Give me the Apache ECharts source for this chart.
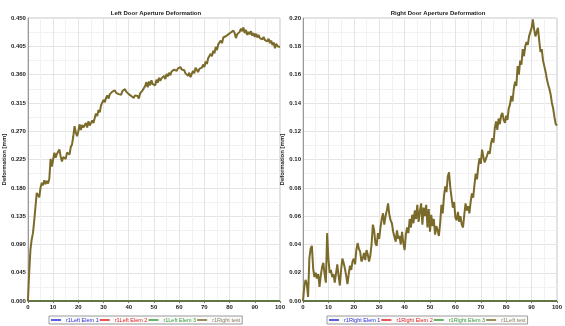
<!DOCTYPE html>
<html>
<head>
<meta charset="utf-8">
<script src="https://cdn.jsdelivr.net/npm/echarts@6/dist/echarts.min.js"></script>
<style>
  html, body { margin: 0; padding: 0; background: #ffffff; }
  #chart { width: 565px; height: 326px; }
</style>
</head>
<body>
<div id="chart"></div>
<script>
// Sampling interval of the measured channels [ms]
const SAMPLE_STEP = 0.5;

// Left door aperture deformation, test channel [mm], one value per 0.5 ms
const leftTest = [
  0.000, 0.045, 0.082, 0.098, 0.108, 0.128, 0.150, 0.172, 0.175, 0.165,
  0.180, 0.188, 0.184, 0.192, 0.186, 0.191, 0.187, 0.195, 0.226, 0.214,
  0.225, 0.236, 0.228, 0.234, 0.232, 0.241, 0.230, 0.222, 0.229, 0.232,
  0.226, 0.236, 0.238, 0.233, 0.245, 0.249, 0.262, 0.278, 0.268, 0.262,
  0.270, 0.281, 0.272, 0.280, 0.276, 0.274, 0.283, 0.276, 0.286, 0.279,
  0.281, 0.287, 0.283, 0.291, 0.298, 0.294, 0.304, 0.300, 0.311, 0.309,
  0.320, 0.316, 0.323, 0.327, 0.322, 0.329, 0.326, 0.333, 0.330, 0.335,
  0.331, 0.334, 0.329, 0.332, 0.328, 0.334, 0.331, 0.337, 0.333, 0.336,
  0.329, 0.331, 0.326, 0.329, 0.323, 0.327, 0.324, 0.326, 0.322, 0.330,
  0.328, 0.335, 0.333, 0.342, 0.348, 0.340, 0.349, 0.343, 0.351, 0.345,
  0.348, 0.343, 0.352, 0.347, 0.355, 0.350, 0.354, 0.351, 0.358, 0.353,
  0.361, 0.357, 0.363, 0.359, 0.365, 0.362, 0.368, 0.371, 0.366, 0.370,
  0.367, 0.372, 0.368, 0.365, 0.367, 0.362, 0.364, 0.358, 0.363, 0.356,
  0.359, 0.366, 0.362, 0.371, 0.368, 0.364, 0.369, 0.366, 0.371, 0.376,
  0.372, 0.381, 0.377, 0.386, 0.383, 0.393, 0.389, 0.398, 0.394, 0.404,
  0.399, 0.408, 0.405, 0.414, 0.410, 0.419, 0.416, 0.421, 0.418, 0.424,
  0.421, 0.427, 0.424, 0.430, 0.426, 0.418, 0.424, 0.421, 0.428, 0.433,
  0.429, 0.435, 0.426, 0.431, 0.423, 0.428, 0.424, 0.429, 0.422, 0.426,
  0.420, 0.425, 0.419, 0.423, 0.418, 0.421, 0.416, 0.420, 0.415, 0.418,
  0.413, 0.417, 0.410, 0.414, 0.407, 0.411, 0.402, 0.409, 0.405, 0.408,
  0.404
];

// Right door aperture deformation, test channel [mm], one value per 0.5 ms
const rightTest = [
  0.000, 0.010, 0.015, 0.012, 0.003, 0.030, 0.037, 0.039, 0.023, 0.017,
  0.020, 0.016, 0.019, 0.010, 0.018, 0.024, 0.027, 0.019, 0.013, 0.048,
  0.030, 0.020, 0.022, 0.017, 0.019, 0.013, 0.012, 0.026, 0.018, 0.011,
  0.022, 0.030, 0.027, 0.023, 0.018, 0.012, 0.019, 0.025, 0.022, 0.028,
  0.030, 0.026, 0.036, 0.041, 0.037, 0.035, 0.028, 0.030, 0.034, 0.029,
  0.036, 0.033, 0.028, 0.032, 0.040, 0.054, 0.050, 0.041, 0.039, 0.048,
  0.044, 0.052, 0.058, 0.062, 0.054, 0.060, 0.064, 0.069, 0.061, 0.057,
  0.055, 0.049, 0.048, 0.042, 0.050, 0.044, 0.046, 0.040, 0.049, 0.041,
  0.036, 0.047, 0.052, 0.048, 0.058, 0.052, 0.061, 0.055, 0.064, 0.058,
  0.068, 0.056, 0.063, 0.069, 0.054, 0.066, 0.060, 0.068, 0.052, 0.065,
  0.049, 0.061, 0.053, 0.058, 0.047, 0.053, 0.050, 0.046, 0.055, 0.068,
  0.062, 0.074, 0.081, 0.077, 0.088, 0.091, 0.080, 0.073, 0.066, 0.070,
  0.059, 0.057, 0.063, 0.056, 0.060, 0.054, 0.052, 0.061, 0.069, 0.064,
  0.067, 0.062, 0.070, 0.076, 0.073, 0.082, 0.090, 0.086, 0.095, 0.101,
  0.097, 0.107, 0.102, 0.098, 0.097, 0.103, 0.106, 0.104, 0.111, 0.115,
  0.112, 0.122, 0.127, 0.121, 0.129, 0.125, 0.131, 0.133, 0.128, 0.126,
  0.131, 0.128, 0.136, 0.139, 0.145, 0.141, 0.150, 0.155, 0.152, 0.166,
  0.160, 0.170, 0.167, 0.178, 0.173, 0.180, 0.183, 0.181, 0.187, 0.190,
  0.193, 0.199, 0.192, 0.187, 0.190, 0.193, 0.184, 0.176, 0.178, 0.170,
  0.166, 0.162, 0.157, 0.153, 0.150, 0.146, 0.140, 0.136, 0.130, 0.125,
  0.124
];

// Element channels stay at zero over the whole run: [time, value] end points
const elemTimes = [0, 100];
const elemValues = [0, 0];

// Axis ticks
const timeTicks = { min: 0, max: 100, interval: 10 };
const leftTicks = { min: 0, max: 0.45, interval: 0.045 };
const rightTicks = { min: 0, max: 0.2, interval: 0.02 };

const leftNames = ['r1Left Elem 1', 'r1Left Elem 2', 'r1Left Elem 3', 'r1Right test'];
const rightNames = ['r1Right Elem 1', 'r1Right Elem 2', 'r1Right Elem 3', 'r1Left test'];
const channelColors = ['#2b2bd6', '#e02020', '#3a9a3a', '#7b6b2b'];
const legendTextColors = ['#2b2bd6', '#e02020', '#3a9a3a', '#8a8060'];

const FONT = 'Liberation Sans, Arial, sans-serif';

function pairs(xs, ys) { return ys.map((v, i) => [xs[i], v]); }
function sampled(values) { return values.map((v, i) => [i * SAMPLE_STEP, v]); }

function xAxisFor(gridIndex) {
  return {
    type: 'value', gridIndex,
    min: timeTicks.min, max: timeTicks.max, interval: timeTicks.interval,
    name: 'Time [ms]', nameLocation: 'middle', nameGap: 9,
    nameTextStyle: { fontSize: 6, fontWeight: 'bold', color: '#222', fontFamily: FONT },
    axisLine: { show: true, lineStyle: { color: '#9a9a9a', width: 1 } },
    axisTick: { show: true, length: 2, lineStyle: { color: '#777' } },
    axisLabel: { fontSize: 6, color: '#222', margin: 3, fontWeight: 'bold', fontFamily: FONT },
    splitLine: { show: true, lineStyle: { color: '#e4e4e4', width: 1 } },
    minorTick: { show: false, splitNumber: 2 },
    minorSplitLine: { show: true, lineStyle: { color: '#f2f2f2', width: 1 } }
  };
}

function yAxisFor(gridIndex, ticks, decimals) {
  return {
    type: 'value', gridIndex,
    min: ticks.min, max: ticks.max, interval: ticks.interval,
    name: 'Deformation [mm]', nameLocation: 'middle', nameGap: 14, nameRotate: 90,
    nameTextStyle: { fontSize: 6, fontWeight: 'bold', color: '#222', fontFamily: FONT },
    axisLine: { show: true, lineStyle: { color: '#9a9a9a', width: 1 } },
    axisTick: { show: false },
    axisLabel: {
      fontSize: 6, color: '#222', margin: 2, fontWeight: 'bold', fontFamily: FONT,
      formatter: v => v.toFixed(decimals)
    },
    splitLine: { show: true, lineStyle: { color: '#e4e4e4', width: 1 } },
    minorTick: { show: false, splitNumber: 2 },
    minorSplitLine: { show: true, lineStyle: { color: '#f2f2f2', width: 1 } }
  };
}

function legendFor(names, leftX) {
  return {
    orient: 'horizontal',
    left: leftX, top: 316,
    icon: 'rect', itemWidth: 10, itemHeight: 1.5, itemGap: 1,
    padding: [1, 2], borderColor: '#9a9a9a', borderWidth: 1,
    backgroundColor: '#fbfbfb',
    textStyle: { fontSize: 5.5, fontFamily: FONT },
    data: names.map((n, i) => ({ name: n, textStyle: { color: legendTextColors[i] } })),
    selectedMode: false
  };
}

function seriesFor(names, test, axisIndex) {
  const list = names.slice(0, 3).map((n, i) => ({
    name: n, type: 'line', xAxisIndex: axisIndex, yAxisIndex: axisIndex,
    data: pairs(elemTimes, elemValues), showSymbol: false, silent: true,
    lineStyle: { color: channelColors[i], width: 1.5 }, itemStyle: { color: channelColors[i] }
  }));
  list.push({
    name: names[3], type: 'line', xAxisIndex: axisIndex, yAxisIndex: axisIndex,
    data: sampled(test), showSymbol: false, silent: true,
    lineStyle: { color: channelColors[3], width: 2 }, itemStyle: { color: channelColors[3] }
  });
  return list;
}

const chart = echarts.init(document.getElementById('chart'), null, { renderer: 'canvas' });
chart.setOption({
  animation: false,
  backgroundColor: '#ffffff',
  title: [
    { text: 'Left Door Aperture Deformation', left: 151, top: 5, textAlign: 'center',
      textStyle: { fontSize: 6, fontWeight: 'bold', color: '#222', fontFamily: FONT } },
    { text: 'Right Door Aperture Deformation', left: 433, top: 5, textAlign: 'center',
      textStyle: { fontSize: 6, fontWeight: 'bold', color: '#222', fontFamily: FONT } }
  ],
  grid: [
    { left: 22, top: 18, width: 258, height: 288, show: true, borderColor: '#c4c4c4', borderWidth: 1, containLabel: false },
    { left: 303, top: 18, width: 260, height: 288, show: true, borderColor: '#c4c4c4', borderWidth: 1, containLabel: false }
  ],
  legend: [legendFor(leftNames, 49), legendFor(rightNames, 327)],
  xAxis: [xAxisFor(0), xAxisFor(1)],
  yAxis: [yAxisFor(0, leftTicks, 3), yAxisFor(1, rightTicks, 2)],
  series: seriesFor(leftNames, leftTest, 0).concat(seriesFor(rightNames, rightTest, 1))
});
</script>
</body>
</html>
